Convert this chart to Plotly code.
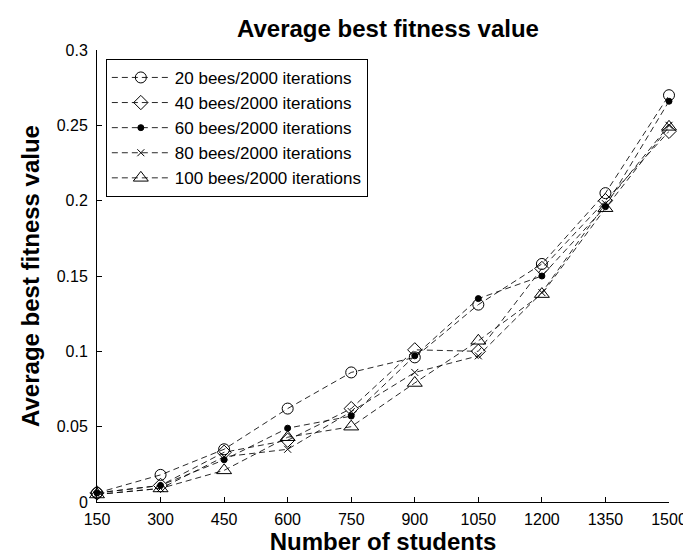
import plotly.graph_objects as go

students = [150, 300, 450, 600, 750, 900, 1050, 1200, 1350, 1500]
bees20 = [0.006, 0.018, 0.035, 0.062, 0.086, 0.096, 0.131, 0.158, 0.205, 0.270]
bees40 = [0.006, 0.011, 0.033, 0.041, 0.062, 0.101, 0.100, 0.155, 0.200, 0.246]
bees60 = [0.006, 0.011, 0.028, 0.049, 0.057, 0.097, 0.135, 0.150, 0.196, 0.266]
bees80 = [0.005, 0.009, 0.030, 0.035, 0.060, 0.086, 0.097, 0.139, 0.198, 0.250]
bees100 = [0.005, 0.009, 0.021, 0.043, 0.050, 0.079, 0.107, 0.138, 0.195, 0.249]

series_names = ["20 bees/2000 iterations", "40 bees/2000 iterations",
                "60 bees/2000 iterations", "80 bees/2000 iterations",
                "100 bees/2000 iterations"]
x_ticks = [150, 300, 450, 600, 750, 900, 1050, 1200, 1350, 1500]
y_ticks = [0, 0.05, 0.1, 0.15, 0.2, 0.25, 0.3]
y_tick_labels = ["0", "0.05", "0.1", "0.15", "0.2", "0.25", "0.3"]

FONT = "Arial, 'Liberation Sans', sans-serif"
styles = [
    dict(symbol="circle-open", size=11),
    dict(symbol="diamond-open", size=11),
    dict(symbol="circle", size=6),
    dict(symbol="x-thin-open", size=7),
    dict(symbol="triangle-up-open", size=13),
]
data = [bees20, bees40, bees60, bees80, bees100]

fig = go.Figure()
for i, (name, ys, st) in enumerate(zip(series_names, data, styles)):
    fig.add_trace(go.Scatter(
        x=students, y=ys, name=name, mode="lines+markers",
        line=dict(color="#111111", width=0.9, dash="6px,4px"),
        marker=dict(symbol=st["symbol"], size=st["size"], color="#000000",
                    line=dict(color="#000000", width=1)),
        cliponaxis=False,
    ))

fig.update_layout(
    width=691, height=554,
    margin=dict(l=89, r=19, t=42, b=54, pad=0),
    paper_bgcolor="white", plot_bgcolor="white",
    font=dict(family=FONT, size=16, color="black"),
    title=dict(text="<b>Average best fitness value</b>", x=380/691, xanchor="center",
               y=1-21/554, yanchor="middle", yref="container",
               font=dict(family=FONT, size=24, color="black")),
    showlegend=True,
    legend=dict(x=(98-89)/583, y=1-(51-42)/457.5, xanchor="left", yanchor="top",
                bordercolor="black", borderwidth=1, bgcolor="white",
                font=dict(family=FONT, size=17, color="black"),
                itemwidth=58, tracegroupgap=0),
)
fig.update_xaxes(
    range=[150, 1500], tickvals=x_ticks, ticktext=[str(v) for v in x_ticks],
    showline=True, linecolor="black", linewidth=1, mirror=False,
    ticks="inside", ticklen=5, tickcolor="black", showgrid=False, zeroline=False,
    tickfont=dict(family=FONT, size=16), ticklabelstandoff=3,
    title=dict(text="<b>Number of students</b>", standoff=5,
               font=dict(family=FONT, size=24, color="black")),
)
fig.update_yaxes(
    range=[0, 0.3], tickvals=y_ticks, ticktext=y_tick_labels,
    showline=True, linecolor="black", linewidth=1, mirror=False,
    ticks="inside", ticklen=5, tickcolor="black", showgrid=False, zeroline=False,
    tickfont=dict(family=FONT, size=16), ticklabelstandoff=5,
    title=dict(text="<b>Average best fitness value</b>", standoff=10,
               font=dict(family=FONT, size=24, color="black")),
)

fig.write_html("out.html")
